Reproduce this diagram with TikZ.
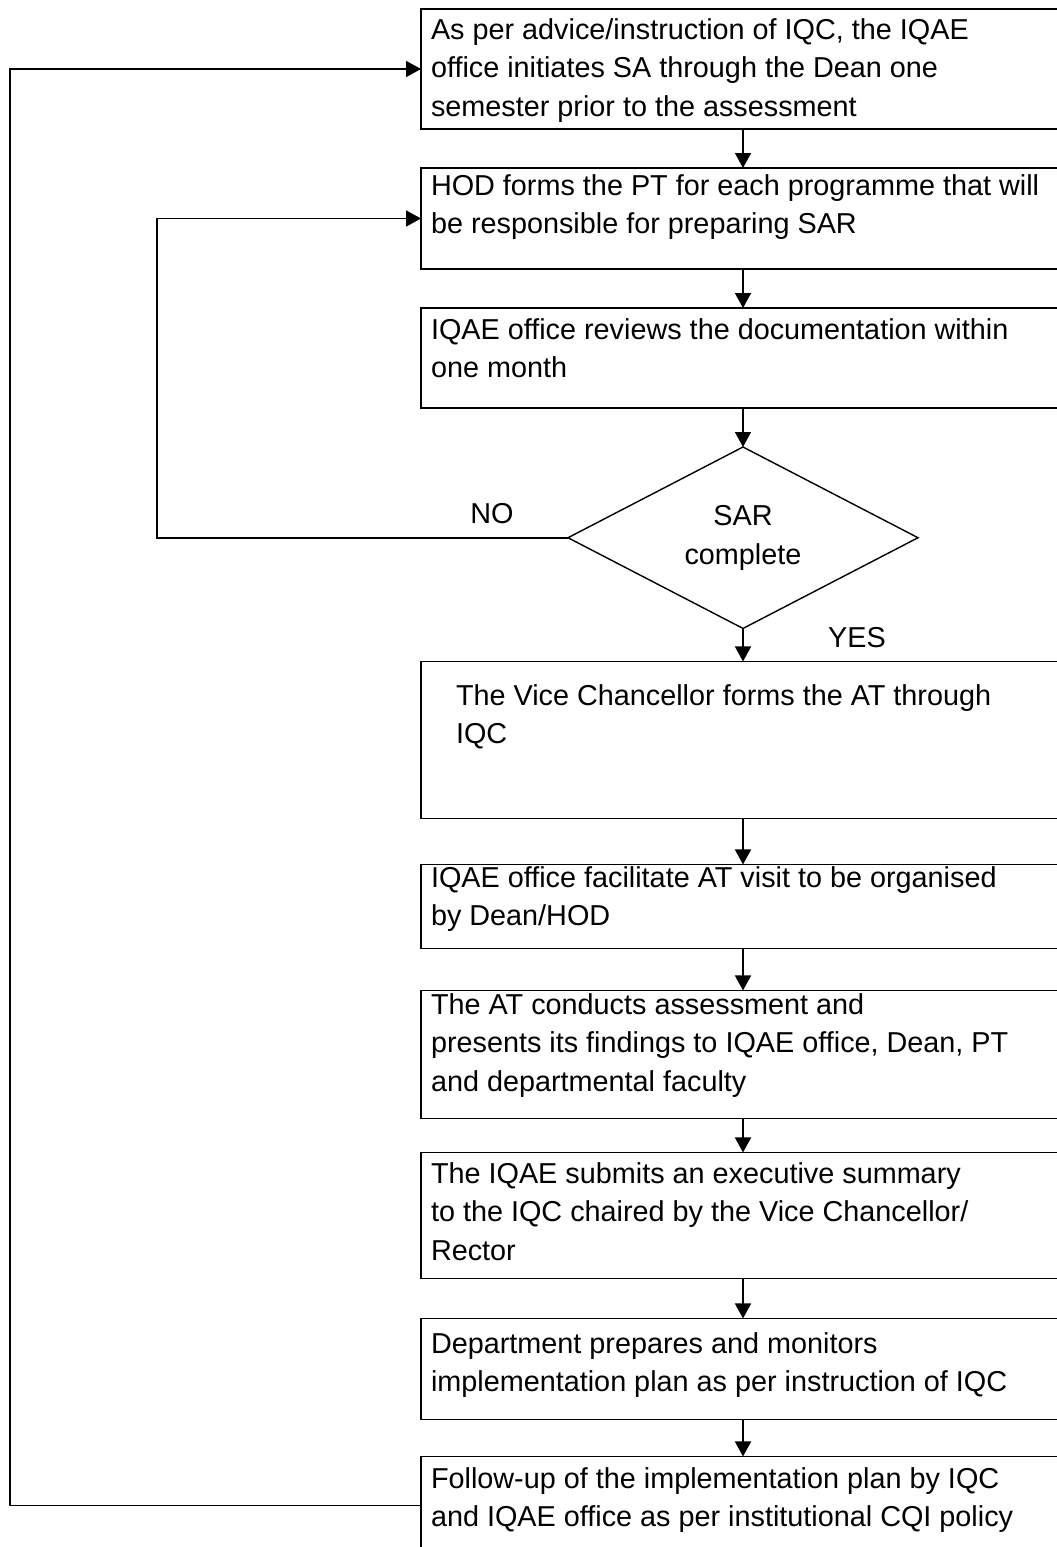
\documentclass[tikz,border=0pt]{standalone}
\usepackage{fontspec}
\setmainfont{Liberation Sans}
\usetikzlibrary{positioning, calc}
\usetikzlibrary{shapes,arrows.meta}
\tikzstyle{stage} = [rectangle, draw, line width=1.8pt, inner xsep=10pt,
    inner ysep=0pt, outer sep=0pt, minimum width=644pt]
\tikzstyle{decision} = [diamond, draw, line width=1.4pt, inner sep=0pt,
    outer sep=0pt, minimum width=350pt, minimum height=176pt, align=center]
\tikzstyle{line} = [draw, line width=1.6pt, -{Triangle[length=15pt, width=16pt]}]
\tikzstyle{back} = [draw, line width=1.8pt, -{Triangle[length=15pt, width=16pt]}]
\newcommand{\stagetext}[3]{\parbox[c][#1][t]{624pt}{\raggedright\rule{0pt}{#2}#3}}

\begin{document}
\begin{tikzpicture}[x=1pt, y=1pt, node distance = 39pt,
    font=\fontsize{28.8pt}{38.5pt}\selectfont]
  \path [use as bounding box] (0,0) rectangle (1057,-1547);
   % Place nodes
    \node [stage, anchor=north] (advice) at (743,-9) {\stagetext{120pt}{30pt}{As per advice/instruction of IQC, the IQAE\\office initiates SA through the Dean one\\semester prior to the assessment}};
    \node [stage, below=of advice] (team) {\stagetext{101pt}{27pt}{HOD forms the PT for each programme that will\\be responsible for preparing SAR}};
    \node [stage, below=of team] (review) {\stagetext{100pt}{31pt}{IQAE office reviews the documentation within\\one month}};
    \node [decision, below=of review] (sar) {SAR\\complete};
    \node [stage, below=33pt of sar] (vc) {\stagetext{157pt}{44pt}{\leftskip=25pt The Vice Chancellor forms the AT through\\IQC}};
    \node [stage, below=46pt of vc] (visit) {\stagetext{84pt}{23pt}{IQAE office facilitate AT visit to be organised\\by Dean/HOD}};
    \node [stage, below=42pt of visit] (assess) {\stagetext{128pt}{24pt}{The AT conducts assessment and\\presents its findings to IQAE office, Dean, PT\\and departmental faculty}};
    \node [stage, below=34pt of assess] (summary) {\stagetext{126pt}{31pt}{The IQAE submits an executive summary\\to the IQC chaired by the Vice Chancellor/\\Rector}};
    \node [stage, below=40pt of summary] (plan) {\stagetext{101pt}{35pt}{Department prepares and monitors\\implementation plan as per instruction of IQC}};
    \node [stage, below=37pt of plan] (follow) {\stagetext{98pt}{32pt}{Follow-up of the implementation plan by IQC\\and IQAE office as per institutional CQI policy}};
    \node [anchor=base west, inner sep=0pt] (yes) at ([xshift=85pt, yshift=-19pt]sar.south) {YES};
   % Draw edges
    \path [line] (advice) -- (team);
    \path [line] (team) -- (review);
    \path [line] (review) -- (sar);
    \path [line] (sar) -- (vc);
    \path [line] (vc) -- (visit);
    \path [line] (visit) -- (assess);
    \path [line] (assess) -- (summary);
    \path [line] (summary) -- (plan);
    \path [line] (plan) -- (follow);
    \path [back] (sar.west) -- node [pos=0.185, above=10pt] (no) {NO} ++(-411,0) |- (team.west);
    \path [back] (follow.west) -- ++(-411,0) |- (advice.west);
  \end{tikzpicture}
\end{document}
